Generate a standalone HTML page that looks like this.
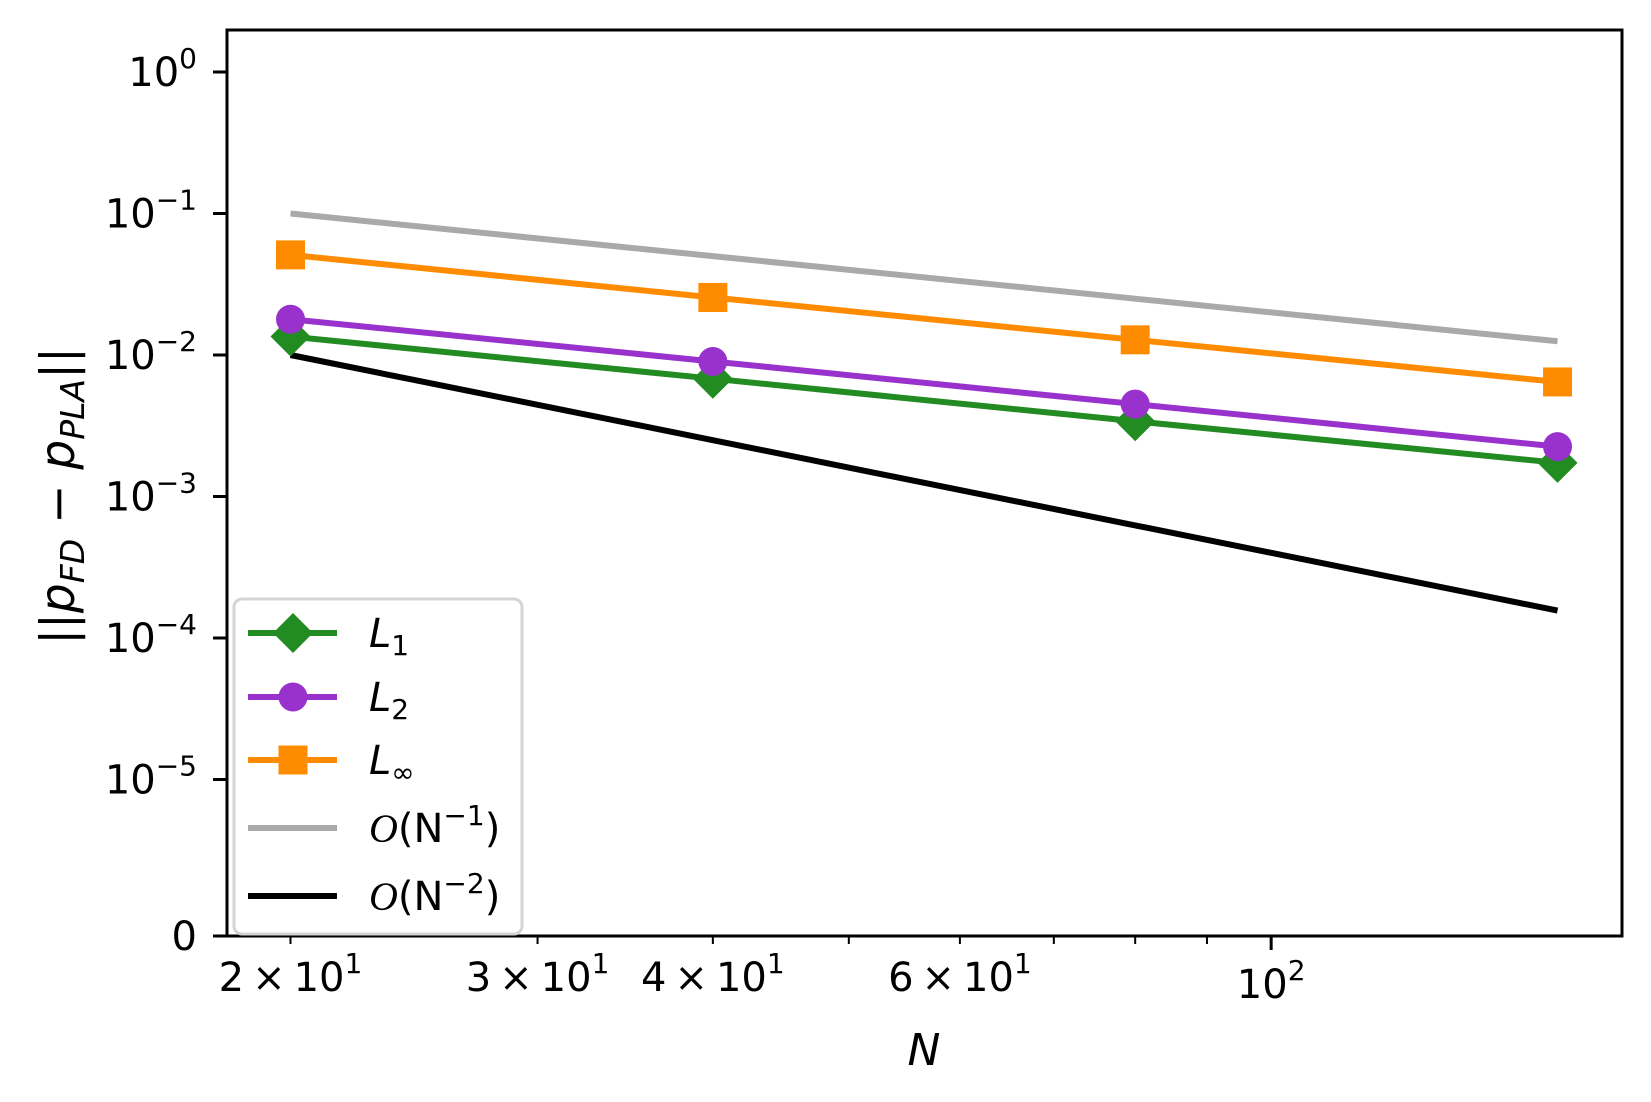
<!DOCTYPE html>
<html><head><meta charset="utf-8"><style>
html,body{margin:0;padding:0;background:#fff;}
svg{display:block;font-family:"DejaVu Sans","Liberation Sans",sans-serif;}
</style></head><body>
<svg id="chart" width="1651" height="1102" viewBox="0 0 1651 1102" xmlns="http://www.w3.org/2000/svg">
<g id="plot"></g>
<g id="axes"></g>
<g id="legend"></g>
</svg>
<script>
const nValues = [20, 40, 80, 160];
const l1Values = [0.0135, 0.0068, 0.0034, 0.00173];
const l2Values = [0.0179, 0.009, 0.0045, 0.00225];
const linfValues = [0.051, 0.0255, 0.0128, 0.00645];
const order1Values = [0.1, 0.05, 0.025, 0.0125];
const order2Values = [0.01, 0.0025, 0.000625, 0.00015625];
const yTickExps = [0, -1, -2, -3, -4, -5];
const xMinorTicks = [20, 30, 40, 50, 60, 70, 80, 90];
const xMinorLabels = {20:'2', 30:'3', 40:'4', 60:'6'};

const NS = 'http://www.w3.org/2000/svg';
const L = 227, R = 1622, T = 30, B = 936;
function xs(n){ return 290.5 + (Math.log10(n) - Math.log10(20)) * 1403; }
function ys(v){ return 72 - Math.log10(v) * 141.5; }
function mk(tag, attrs, parent){ const e = document.createElementNS(NS, tag); for (const k in attrs) e.setAttribute(k, attrs[k]); parent.appendChild(e); return e; }

const plot = document.getElementById('plot');
const axes = document.getElementById('axes');
const legend = document.getElementById('legend');

function line(vals, color, w, name){
  const pts = nValues.map((n,i)=>xs(n)+','+ys(vals[i])).join(' ');
  const p = mk('polyline', {points: pts, fill:'none', stroke: color, 'stroke-width': w, 'stroke-linejoin':'round'}, plot);
  
  
}
function marker(type, cx, cy, color, parent){
  let e;
  if (type === 'square') e = mk('rect', {x: cx-14.5, y: cy-14.5, width: 29, height: 29, fill: color}, parent);
  else if (type === 'circle') e = mk('circle', {cx: cx, cy: cy, r: 14.5, fill: color}, parent);
  else e = mk('polygon', {points: `${cx},${cy-20} ${cx+20},${cy} ${cx},${cy+20} ${cx-20},${cy}`, fill: color}, parent);
  return e;
}
line(order1Values, '#a9a9a9', 6, 'order1-line');
line(order2Values, '#000000', 6, 'order2-line');
const series = [
  {vals: linfValues, color:'#ff8c00', type:'square', name:'linf'},
  {vals: l2Values, color:'#9932cc', type:'circle', name:'l2'},
  {vals: l1Values, color:'#228b22', type:'diamond', name:'l1'}
];
series.slice().reverse().forEach(s=>{
  line(s.vals, s.color, 6, s.name+'-line');
  nValues.forEach((n,i)=>{
    const m = marker(s.type, xs(n), ys(s.vals[i]), s.color, plot);
    
    
  });
});

const fr = mk('rect', {x:L, y:T, width:R-L, height:B-T, fill:'none', stroke:'#000', 'stroke-width':3}, axes);



yTickExps.forEach(e=>{
  const y = ys(Math.pow(10, e));
  const t = mk('line', {x1:L-14, x2:L, y1:y, y2:y, stroke:'#000', 'stroke-width':3}, axes);
  
  
  const tx = mk('text', {x:197, y:y+14, 'font-size':40, 'text-anchor':'end'}, axes);
  
  
  tx.innerHTML = '10<tspan dy="-18" font-size="28">' + (e===0 ? '0' : '\u2212'+(-e)) + '</tspan>';
});
{
  const t = mk('line', {x1:L-14, x2:L, y1:B, y2:B, stroke:'#000', 'stroke-width':3}, axes);
  
  
  const tx = mk('text', {x:197, y:B+14, 'font-size':40, 'text-anchor':'end'}, axes);
  
  
  tx.textContent = '0';
}
xMinorTicks.forEach(n=>{
  const x = xs(n);
  const t = mk('line', {x1:x, x2:x, y1:B, y2:B+8, stroke:'#000', 'stroke-width':2}, axes);
  
  
  if (xMinorLabels[n]) {
    const tx = mk('text', {x:x, y:B+55, 'font-size':40, 'text-anchor':'middle'}, axes);
    
    
    tx.innerHTML = xMinorLabels[n] + '\u2009\u00d7\u200910<tspan dy="-18" font-size="28">1</tspan>';
  }
});
{
  const x = xs(100);
  const t = mk('line', {x1:x, x2:x, y1:B, y2:B+14, stroke:'#000', 'stroke-width':3}, axes);
  
  
  const tx = mk('text', {x:x, y:B+62, 'font-size':40, 'text-anchor':'middle'}, axes);
  
  
  tx.innerHTML = '10<tspan dy="-18" font-size="28">2</tspan>';
}
{
  const tx = mk('text', {x:924, y:1065, 'font-size':44, 'text-anchor':'middle', 'font-style':'italic'}, axes);
  
  
  tx.textContent = 'N';
  const ty = mk('text', {x:0, y:0, 'font-size':47, 'text-anchor':'middle', transform:'translate(74,496) rotate(-90)'}, axes);
  
  
  ty.innerHTML = '||<tspan font-style="italic">p</tspan><tspan font-style="italic" font-size="33" dy="10">FD</tspan><tspan dy="-10"> \u2212 </tspan><tspan font-style="italic">p</tspan><tspan font-style="italic" font-size="33" dy="10">PLA</tspan><tspan dy="-10">||</tspan>';
}
{
  const box = mk('rect', {x:234, y:599, width:288, height:335, rx:8, fill:'#fff', 'fill-opacity':0.8, stroke:'#d4d4d4', 'stroke-width':3}, legend);
  
  
  const entries = [
    {y:633, color:'#228b22', type:'diamond', label:'<tspan font-style="italic">L</tspan><tspan font-size="28" dy="8">1</tspan>'},
    {y:697, color:'#9932cc', type:'circle', label:'<tspan font-style="italic">L</tspan><tspan font-size="28" dy="8">2</tspan>'},
    {y:760, color:'#ff8c00', type:'square', label:'<tspan font-style="italic">L</tspan><tspan font-size="28" dy="8">\u221e</tspan>'},
    {y:828, color:'#a9a9a9', type:null, label:'<tspan font-style="italic" font-family="Liberation Serif, serif">O</tspan>(N<tspan font-size="28" dy="-17">\u22121</tspan><tspan dy="17">)</tspan>'},
    {y:896, color:'#000000', type:null, label:'<tspan font-style="italic" font-family="Liberation Serif, serif">O</tspan>(N<tspan font-size="28" dy="-17">\u22122</tspan><tspan dy="17">)</tspan>'}
  ];
  entries.forEach(en=>{
    const g = mk('g', {}, legend);
    
    
    mk('line', {x1:248, x2:337, y1:en.y, y2:en.y, stroke:en.color, 'stroke-width':6}, g);
    if (en.type) marker(en.type, 293, en.y, en.color, g);
    const t = mk('text', {x:369, y:en.y+14, 'font-size':40}, g);
    t.innerHTML = en.label;
  });
}
</script>
</body></html>
